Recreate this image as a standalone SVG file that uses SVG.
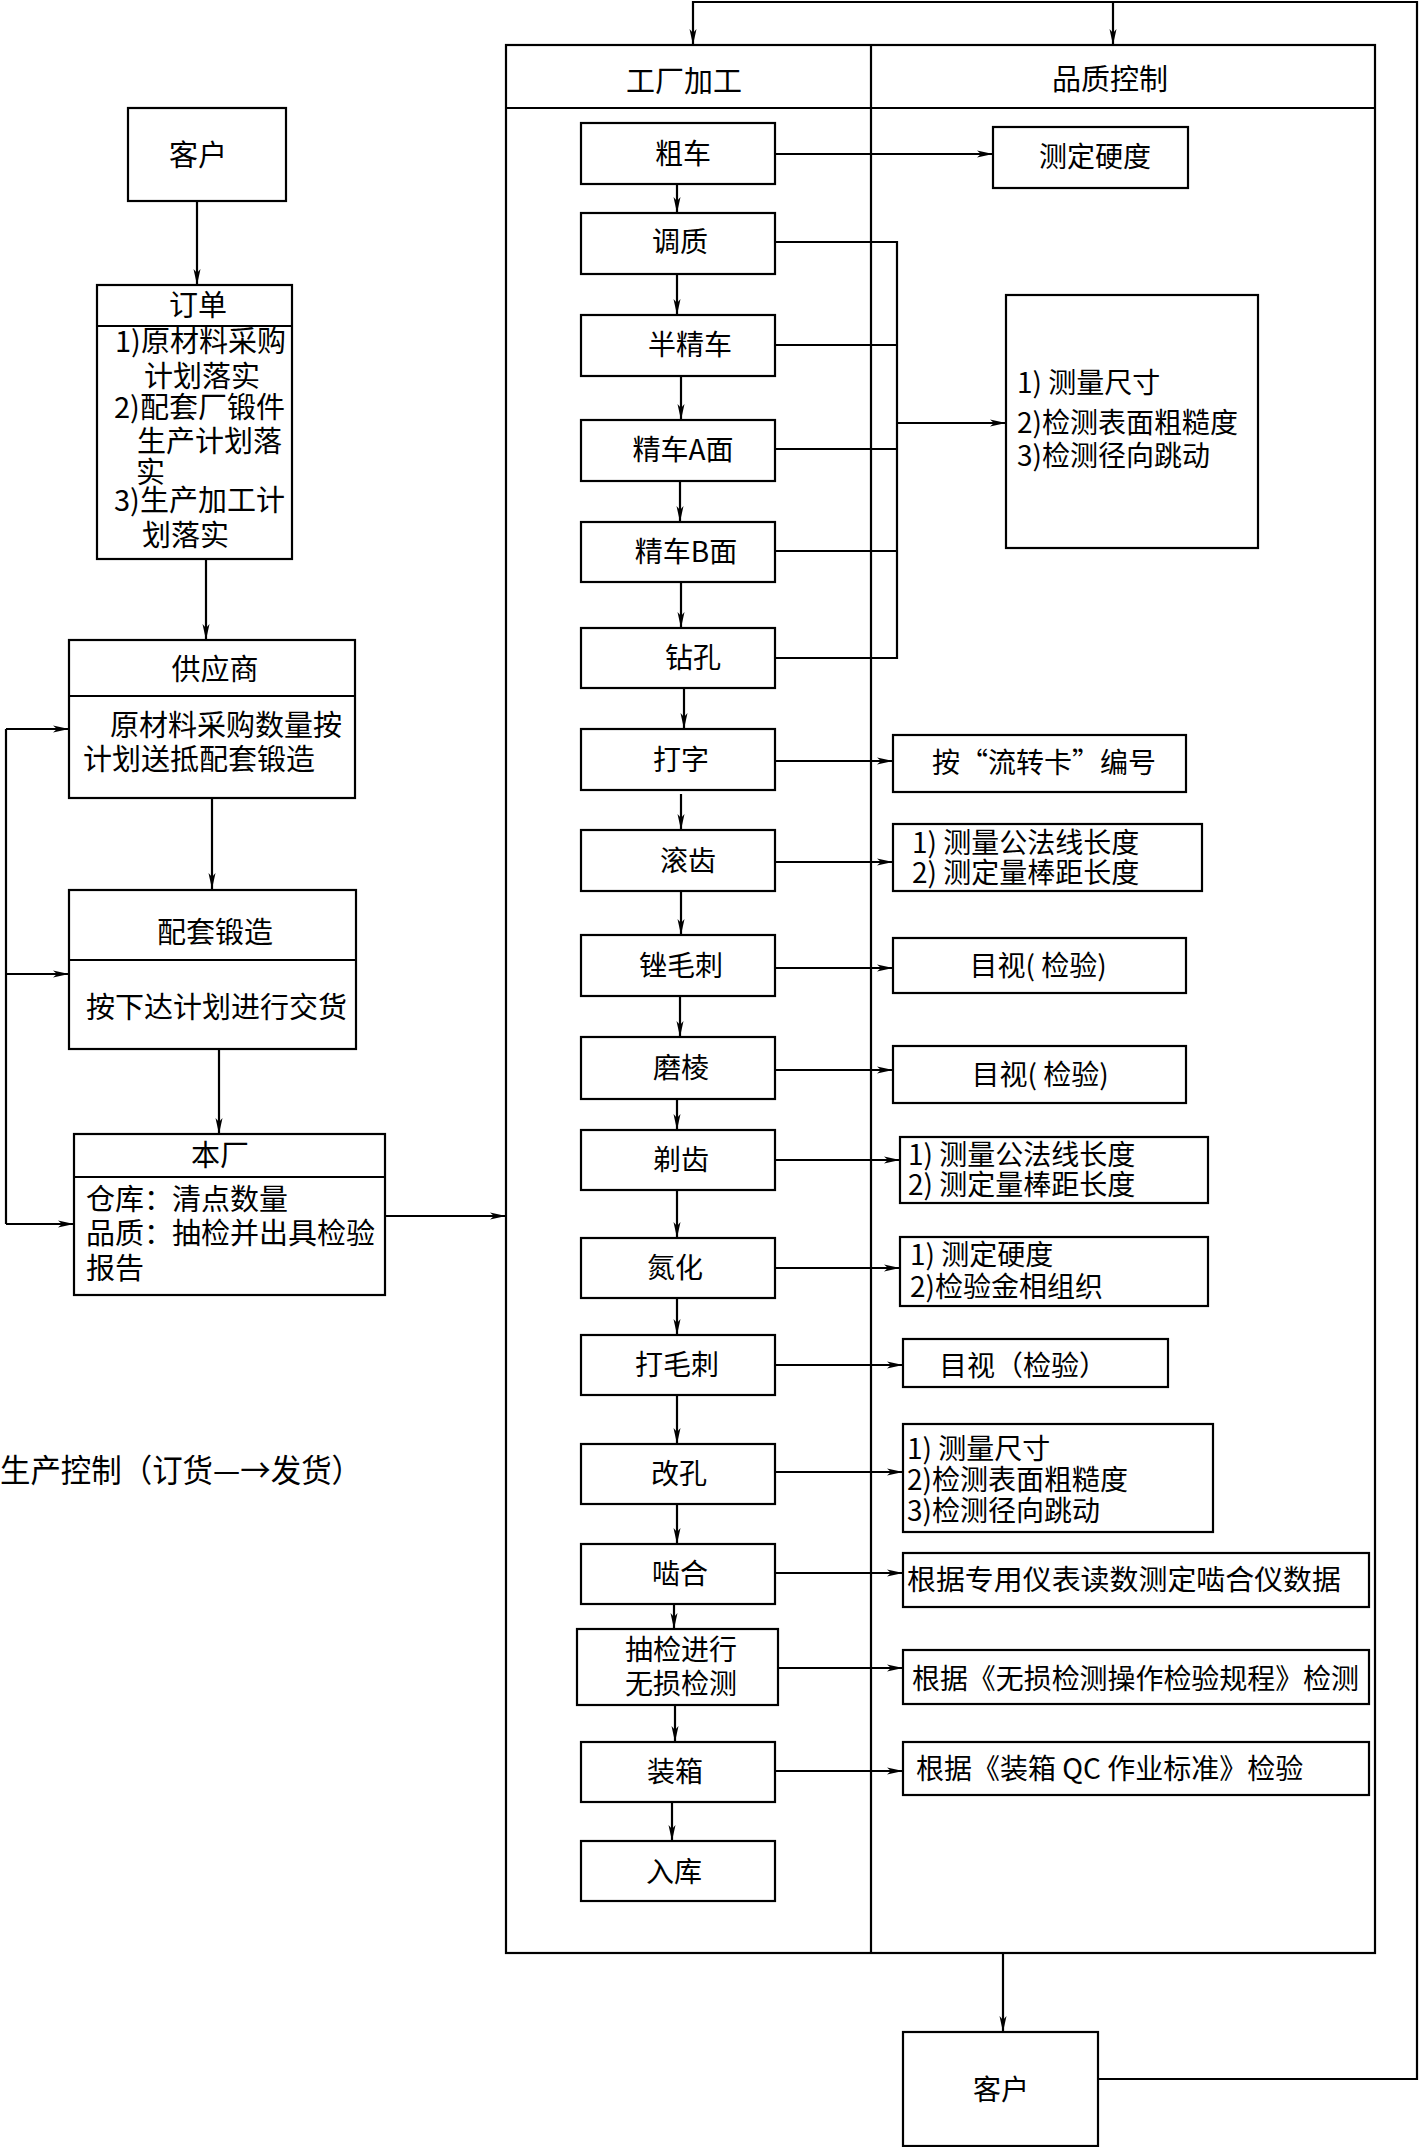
<svg xmlns="http://www.w3.org/2000/svg" width="1420" height="2147" viewBox="0 0 1420 2147">
<style>
.b{fill:#fff;stroke:#000;stroke-width:2.2}
.l{fill:none;stroke:#000;stroke-width:2.2}
.t{font-family:"Noto Sans CJK SC","Noto Sans",sans-serif;font-size:28px;fill:#000}
.s{font-size:29px}
.c{text-anchor:middle}
</style>
<defs>
<marker id="a" viewBox="0 0 16 8" refX="16" refY="4" markerWidth="16" markerHeight="8" orient="auto" markerUnits="userSpaceOnUse">
<path d="M0,0.5 L16,4 L0,7.5 L4,4 z" fill="#000"/>
</marker>
</defs>
<rect width="1420" height="2147" fill="#fff"/>

<g id="frame">
<rect class="l" x="506" y="45" width="869" height="1908"/>
<path class="l" d="M506,108 H1375 M871,45 V1953"/>
<text class="t s c" x="684" y="92">工厂加工</text>
<text class="t s c" x="1110" y="90">品质控制</text>
</g>

<g id="connectors">
<path class="l" d="M197,201 V285" marker-end="url(#a)"/>
<path class="l" d="M206,559 V640" marker-end="url(#a)"/>
<path class="l" d="M212,798 V889" marker-end="url(#a)"/>
<path class="l" d="M219,1049 V1134" marker-end="url(#a)"/>
<path class="l" d="M6,729 V1224"/>
<path class="l" d="M6,729 H69" marker-end="url(#a)"/>
<path class="l" d="M6,974 H69" marker-end="url(#a)"/>
<path class="l" d="M6,1224 H74" marker-end="url(#a)"/>
<path class="l" d="M385,1216 H506" marker-end="url(#a)"/>
<path class="l" d="M1098,2079 H1417 V2 H693 V45" marker-end="url(#a)"/>
<path class="l" d="M1113,2 V45" marker-end="url(#a)"/>
<path class="l" d="M1003,1953 V2032" marker-end="url(#a)"/>
<path class="l" d="M677,184 V213" marker-end="url(#a)"/>
<path class="l" d="M677,274 V315" marker-end="url(#a)"/>
<path class="l" d="M681,376 V420" marker-end="url(#a)"/>
<path class="l" d="M680,481 V522" marker-end="url(#a)"/>
<path class="l" d="M681,582 V628" marker-end="url(#a)"/>
<path class="l" d="M684,688 V729" marker-end="url(#a)"/>
<path class="l" d="M681,794 V830" marker-end="url(#a)"/>
<path class="l" d="M681,891 V935" marker-end="url(#a)"/>
<path class="l" d="M680,996 V1037" marker-end="url(#a)"/>
<path class="l" d="M677,1099 V1130" marker-end="url(#a)"/>
<path class="l" d="M677,1190 V1238" marker-end="url(#a)"/>
<path class="l" d="M677,1298 V1335" marker-end="url(#a)"/>
<path class="l" d="M677,1395 V1444" marker-end="url(#a)"/>
<path class="l" d="M677,1504 V1544" marker-end="url(#a)"/>
<path class="l" d="M674,1604 V1629" marker-end="url(#a)"/>
<path class="l" d="M675,1705 V1742" marker-end="url(#a)"/>
<path class="l" d="M672,1802 V1841" marker-end="url(#a)"/>
<path class="l" d="M775,154 H993" marker-end="url(#a)"/>
<path class="l" d="M775,242 H897 V658 H775 M775,345 H897 M775,449 H897 M775,551 H897"/>
<path class="l" d="M897,423 H1006" marker-end="url(#a)"/>
<path class="l" d="M775,761 H893" marker-end="url(#a)"/>
<path class="l" d="M775,862 H893" marker-end="url(#a)"/>
<path class="l" d="M775,968 H893" marker-end="url(#a)"/>
<path class="l" d="M775,1070 H893" marker-end="url(#a)"/>
<path class="l" d="M775,1160 H900" marker-end="url(#a)"/>
<path class="l" d="M775,1268 H900" marker-end="url(#a)"/>
<path class="l" d="M775,1365 H903" marker-end="url(#a)"/>
<path class="l" d="M775,1472 H903" marker-end="url(#a)"/>
<path class="l" d="M775,1573 H903" marker-end="url(#a)"/>
<path class="l" d="M778,1668 H903" marker-end="url(#a)"/>
<path class="l" d="M775,1771 H903" marker-end="url(#a)"/>
</g>

<g id="customer-top"><rect class="b" x="128" y="108" width="158" height="93"/><text class="t s c" x="198" y="166">客户</text></g>
<g id="order"><rect class="b" x="97" y="285" width="195" height="274"/><path class="l" d="M97,326 H292"/>
<text class="t s c" x="198" y="316">订单</text>
<text class="t s" x="115" y="352">1)原材料采购</text>
<text class="t s" x="144" y="387">计划落实</text>
<text class="t s" x="114" y="418">2)配套厂锻件</text>
<text class="t s" x="137" y="452">生产计划落</text>
<text class="t s" x="136" y="483">实</text>
<text class="t s" x="114" y="511">3)生产加工计</text>
<text class="t s" x="142" y="546">划落实</text>
</g>
<g id="supplier"><rect class="b" x="69" y="640" width="286" height="158"/><path class="l" d="M69,696 H355"/>
<text class="t s c" x="215" y="680">供应商</text>
<text class="t s" x="110" y="736">原材料采购数量按</text>
<text class="t s" x="83" y="770">计划送抵配套锻造</text>
</g>
<g id="forging"><rect class="b" x="69" y="890" width="287" height="159"/><path class="l" d="M69,960 H356"/>
<text class="t s c" x="215" y="943">配套锻造</text>
<text class="t s" x="86" y="1018">按下达计划进行交货</text>
</g>
<g id="factory"><rect class="b" x="74" y="1134" width="311" height="161"/><path class="l" d="M74,1177 H385"/>
<text class="t s c" x="220" y="1166">本厂</text>
<text class="t s" x="86" y="1210">仓库：</text><text class="t s" x="172" y="1210">清点数量</text>
<text class="t s" x="86" y="1244">品质：</text><text class="t s" x="172" y="1244">抽检并出具检验</text>
<text class="t s" x="86" y="1279">报告</text>
</g>
<g id="caption"><text class="t" style="font-size:32px" x="0" y="1482" textLength="362" lengthAdjust="spacingAndGlyphs">生产控制（订货—→发货）</text></g>

<g id="p1"><rect class="b" x="581" y="123" width="194" height="61"/><text class="t c" x="683" y="164">粗车</text></g>
<g id="p2"><rect class="b" x="581" y="213" width="194" height="61"/><text class="t c" x="680" y="252">调质</text></g>
<g id="p3"><rect class="b" x="581" y="315" width="194" height="61"/><text class="t c" x="690" y="355">半精车</text></g>
<g id="p4"><rect class="b" x="581" y="420" width="194" height="61"/><text class="t c" x="683" y="460">精车A面</text></g>
<g id="p5"><rect class="b" x="581" y="522" width="194" height="60"/><text class="t c" x="686" y="562">精车B面</text></g>
<g id="p6"><rect class="b" x="581" y="628" width="194" height="60"/><text class="t c" x="693" y="668">钻孔</text></g>
<g id="p7"><rect class="b" x="581" y="729" width="194" height="61"/><text class="t c" x="681" y="770">打字</text></g>
<g id="p8"><rect class="b" x="581" y="830" width="194" height="61"/><text class="t c" x="688" y="871">滚齿</text></g>
<g id="p9"><rect class="b" x="581" y="935" width="194" height="61"/><text class="t c" x="681" y="976">锉毛刺</text></g>
<g id="p10"><rect class="b" x="581" y="1037" width="194" height="62"/><text class="t c" x="681" y="1078">磨棱</text></g>
<g id="p11"><rect class="b" x="581" y="1130" width="194" height="60"/><text class="t c" x="681" y="1170">剃齿</text></g>
<g id="p12"><rect class="b" x="581" y="1238" width="194" height="60"/><text class="t c" x="675" y="1278">氮化</text></g>
<g id="p13"><rect class="b" x="581" y="1335" width="194" height="60"/><text class="t c" x="677" y="1375">打毛刺</text></g>
<g id="p14"><rect class="b" x="581" y="1444" width="194" height="60"/><text class="t c" x="679" y="1484">改孔</text></g>
<g id="p15"><rect class="b" x="581" y="1544" width="194" height="60"/><text class="t c" x="680" y="1584">啮合</text></g>
<g id="p16"><rect class="b" x="577" y="1629" width="201" height="76"/><text class="t c" x="681" y="1660">抽检进行</text><text class="t c" x="681" y="1694">无损检测</text></g>
<g id="p17"><rect class="b" x="581" y="1742" width="194" height="60"/><text class="t c" x="675" y="1782">装箱</text></g>
<g id="p18"><rect class="b" x="581" y="1841" width="194" height="60"/><text class="t c" x="674" y="1882">入库</text></g>

<g id="q1"><rect class="b" x="993" y="127" width="195" height="61"/><text class="t c" x="1095" y="167">测定硬度</text></g>
<g id="q2"><rect class="b" x="1006" y="295" width="252" height="253"/>
<text class="t" x="1017" y="393">1) 测量尺寸</text>
<text class="t" x="1017" y="433">2)检测表面粗糙度</text>
<text class="t" x="1017" y="466">3)检测径向跳动</text>
</g>
<g id="q3"><rect class="b" x="893" y="735" width="293" height="57"/><text class="t" x="932" y="773">按“流转卡”编号</text></g>
<g id="q4"><rect class="b" x="893" y="824" width="309" height="67"/>
<text class="t" x="912" y="853">1)  测量公法线长度</text>
<text class="t" x="912" y="883">2)  测定量棒距长度</text>
</g>
<g id="q5"><rect class="b" x="893" y="938" width="293" height="55"/><text class="t c" x="1038" y="976">目视( 检验)</text></g>
<g id="q6"><rect class="b" x="893" y="1046" width="293" height="57"/><text class="t c" x="1040" y="1085">目视( 检验)</text></g>
<g id="q7"><rect class="b" x="900" y="1137" width="308" height="66"/>
<text class="t" x="908" y="1165">1) 测量公法线长度</text>
<text class="t" x="908" y="1195">2) 测定量棒距长度</text>
</g>
<g id="q8"><rect class="b" x="900" y="1237" width="308" height="69"/>
<text class="t" x="910" y="1265">1) 测定硬度</text>
<text class="t" x="910" y="1297">2)检验金相组织</text>
</g>
<g id="q9"><rect class="b" x="903" y="1339" width="265" height="48"/><text class="t" x="939" y="1376">目视（检验）</text></g>
<g id="q10"><rect class="b" x="903" y="1424" width="310" height="108"/>
<text class="t" x="907" y="1459">1) 测量尺寸</text>
<text class="t" x="907" y="1490">2)检测表面粗糙度</text>
<text class="t" x="907" y="1521">3)检测径向跳动</text>
</g>
<g id="q11"><rect class="b" x="903" y="1553" width="466" height="54"/><text class="t" x="907" y="1590" textLength="434" lengthAdjust="spacingAndGlyphs">根据专用仪表读数测定啮合仪数据</text></g>
<g id="q12"><rect class="b" x="903" y="1650" width="466" height="54"/><text class="t" x="912" y="1689" textLength="447" lengthAdjust="spacingAndGlyphs">根据《无损检测操作检验规程》检测</text></g>
<g id="q13"><rect class="b" x="903" y="1742" width="466" height="53"/><text class="t" x="916" y="1779">根据《装箱 QC 作业标准》检验</text></g>

<g id="customer-bottom"><rect class="b" x="903" y="2032" width="195" height="114"/><text class="t c" x="1001" y="2100">客户</text></g>
</svg>
